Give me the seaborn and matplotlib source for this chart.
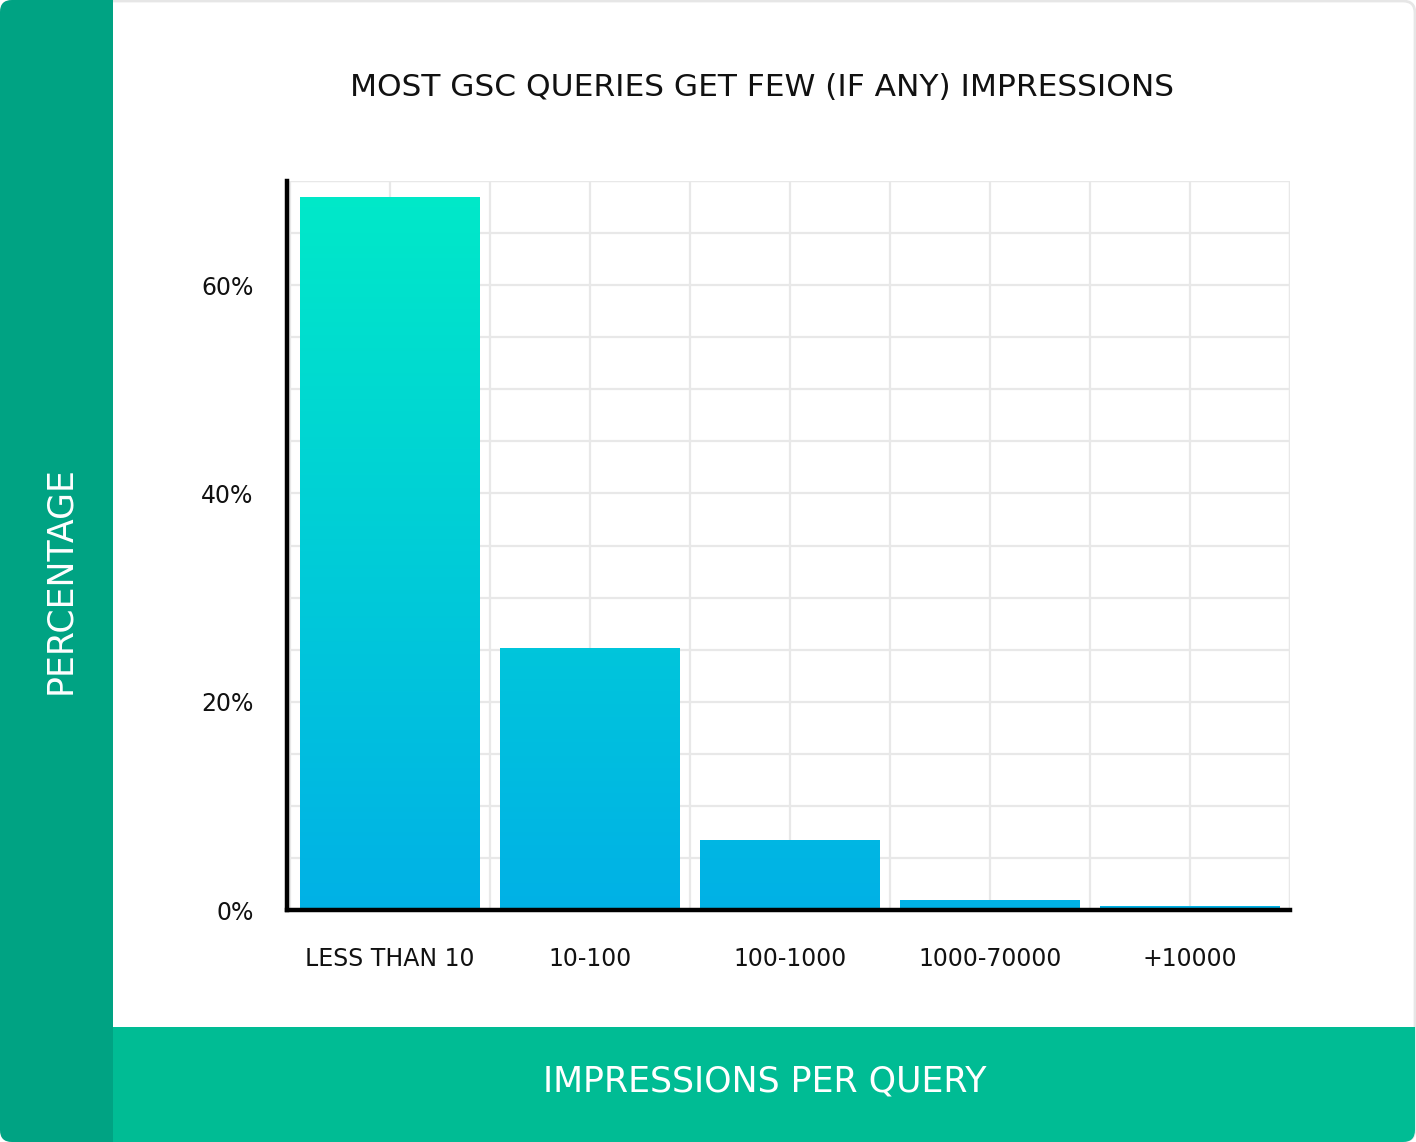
import numpy as np
import pandas as pd
import matplotlib
matplotlib.use("Agg")
import matplotlib.pyplot as plt
import seaborn as sns
from matplotlib.patches import Rectangle, FancyBboxPatch
from matplotlib.colors import LinearSegmentedColormap
from matplotlib.ticker import MultipleLocator, FuncFormatter

categories = ["LESS THAN 10", "10-100", "100-1000", "1000-70000", "+10000"]
percentages = [68.5, 25.2, 6.7, 1.0, 0.4]
y_ticks = [0, 20, 40, 60]
title = "MOST GSC QUERIES GET FEW (IF ANY) IMPRESSIONS"
x_title = "IMPRESSIONS PER QUERY"
y_title = "PERCENTAGE"

sns.set_theme(style="white")
plt.rcParams["font.family"] = ["DejaVu Sans"]

W, H = 1416, 1142
fig = plt.figure(figsize=(W / 100, H / 100), dpi=100)
fig.patch.set_facecolor("white")

# background decoration in pixel coords
bg = fig.add_axes([0, 0, 1, 1], zorder=0)
bg.set_xlim(0, W)
bg.set_ylim(H, 0)
bg.axis("off")
r = 12
# card border
bg.add_patch(FancyBboxPatch((1, 1), W - 2, H - 2, boxstyle=f"round,pad=0,rounding_size={r}",
                            facecolor="white", edgecolor="#e6e6e6", linewidth=2))
# left band
left_c = "#00a383"
bg.add_patch(FancyBboxPatch((0, 0), 113, H, boxstyle=f"round,pad=0,rounding_size={r}",
                            facecolor=left_c, edgecolor="none"))
bg.add_patch(Rectangle((60, 0), 53, H, facecolor=left_c, edgecolor="none"))
# bottom band
bot_c = "#00bc94"
bg.add_patch(FancyBboxPatch((60, 1027), W - 61, H - 1027, boxstyle=f"round,pad=0,rounding_size={r}",
                            facecolor=bot_c, edgecolor="none"))
bg.add_patch(Rectangle((113, 1027), W - 200, H - 1027, facecolor=bot_c, edgecolor="none"))
bg.add_patch(Rectangle((113, 1027), W - 114, 40, facecolor=bot_c, edgecolor="none"))
bg.add_patch(Rectangle((60, 1027), 53, H - 1027, facecolor=left_c, edgecolor="none"))

bg.text(762, 87, title, ha="center", va="center", fontsize=22.5, color="#111111")
bg.text(765, 1081, x_title, ha="center", va="center", fontsize=25, color="white")
bg.text(60, 580, y_title, ha="center", va="center", fontsize=25, color="white", rotation=90)

# main axes
x0, x1 = 287, 1290
y0, y1 = 181, 910
ax = fig.add_axes([x0 / W, 1 - y1 / H, (x1 - x0) / W, (y1 - y0) / H], zorder=1)
ax.patch.set_alpha(0)

df = pd.DataFrame({"cat": categories, "pct": percentages})
sns.barplot(data=df, x="cat", y="pct", ax=ax, width=0.9, color="#00b4e4", saturation=1, zorder=3)

cmap = LinearSegmentedColormap.from_list("g", ["#00b1e6", "#00eac8"])
grad = np.linspace(0, 1, 256).reshape(-1, 1)
for p in ax.patches:
    bx, bw = p.get_x(), p.get_width()
    im = ax.imshow(grad, cmap=cmap, origin="lower", aspect="auto",
                   extent=[bx, bx + bw, 0, 70], zorder=3)
    im.set_clip_path(p)
    p.set_facecolor("none")
    p.set_edgecolor("none")
ax.set_xlim(-0.515, 4.5)
ax.set_ylim(0, 70)

ax.yaxis.set_major_locator(plt.FixedLocator(y_ticks))
ax.yaxis.set_minor_locator(MultipleLocator(5))
ax.yaxis.set_major_formatter(FuncFormatter(lambda v, _: f"{int(v)}%"))
ax.xaxis.set_minor_locator(plt.FixedLocator(np.arange(-0.5, 5, 1.0)))
ax.grid(True, which="both", color="#e8e8e8", linewidth=1.6, zorder=0)
ax.set_axisbelow(True)
ax.tick_params(axis="both", which="both", length=0)
ax.tick_params(axis="y", pad=24, labelsize=17, labelcolor="#111111")
ax.tick_params(axis="x", pad=27, labelsize=17, labelcolor="#111111")
ax.set_xlabel("")
ax.set_ylabel("")

for s in ["top", "right"]:
    ax.spines[s].set_visible(False)
for s in ["left", "bottom"]:
    ax.spines[s].set_visible(True)
    ax.spines[s].set_color("black")
    ax.spines[s].set_linewidth(3.2)
    ax.spines[s].set_zorder(5)
ax.axvline(4.5, color="#e8e8e8", linewidth=1.6, zorder=0)
ax.axhline(70, color="#e8e8e8", linewidth=1.6, zorder=0)

fig.savefig("out.png", dpi=100)
